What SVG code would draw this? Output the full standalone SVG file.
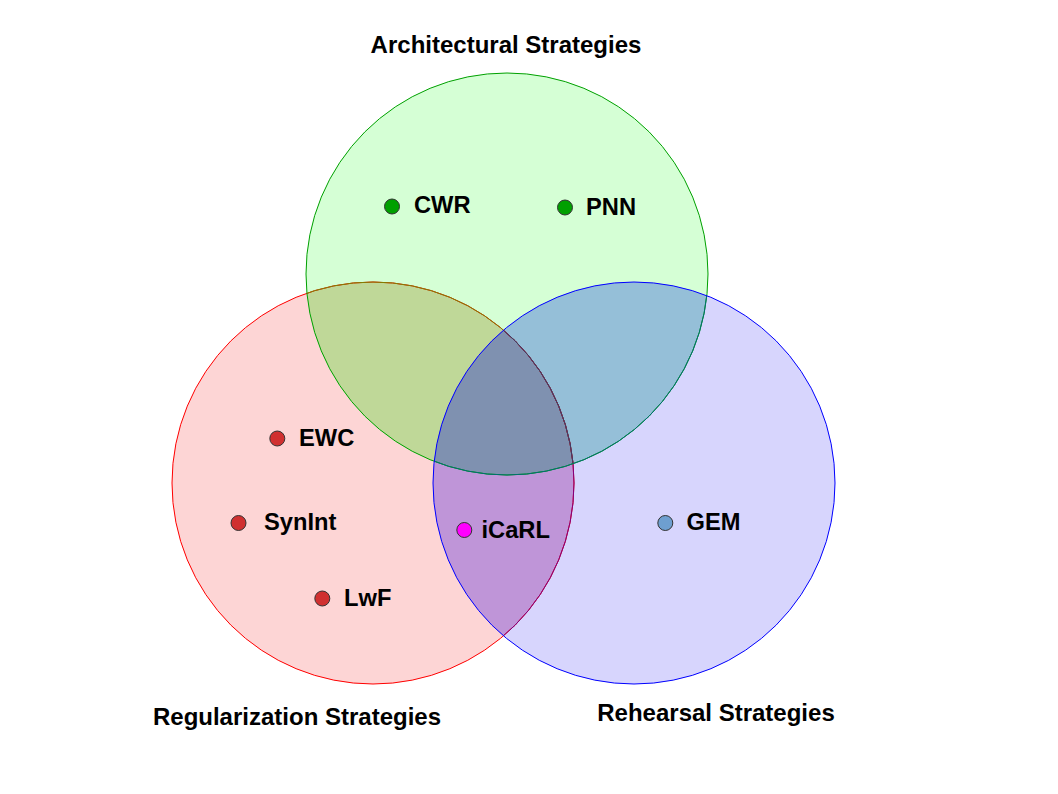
<svg xmlns="http://www.w3.org/2000/svg" width="1058" height="794" viewBox="0 0 1058 794">
<style>
  text { font-family: "Liberation Sans", Arial, sans-serif; font-weight: bold; font-size: 23.7px; fill: #000; }
  .title { text-anchor: middle; font-size: 24px; }
  .dot { stroke: #333; stroke-width: 1; }
  .edge { fill: none; stroke-width: 1; }
</style>
<defs>
  <clipPath id="clipR"><circle cx="373" cy="483" r="201"/></clipPath>
  <clipPath id="clipG"><circle cx="507" cy="274" r="201"/></clipPath>
  <clipPath id="clipB"><circle cx="634" cy="483" r="201"/></clipPath>
</defs>
<rect width="1058" height="794" fill="#ffffff"/>

<g id="set-regularization">
  <circle cx="373" cy="483" r="201" fill="#fdd5d5"/>
</g>
<g id="set-architectural">
  <circle cx="507" cy="274" r="201" fill="#d5ffd5"/>
</g>
<g id="set-rehearsal">
  <circle cx="634" cy="483" r="201" fill="#d7d5fd"/>
</g>

<g id="overlaps">
  <circle cx="507" cy="274" r="201" fill="#bfd898" clip-path="url(#clipR)"/>
  <circle cx="634" cy="483" r="201" fill="#bf95d8" clip-path="url(#clipR)"/>
  <circle cx="634" cy="483" r="201" fill="#95bfd8" clip-path="url(#clipG)"/>
  <g clip-path="url(#clipR)">
    <circle cx="634" cy="483" r="201" fill="#7f91b0" clip-path="url(#clipG)"/>
  </g>
</g>

<g id="outlines">
  <circle class="edge" cx="373" cy="483" r="201" stroke="#ff0000"/>
  <circle class="edge" cx="373" cy="483" r="201" stroke="#808000" clip-path="url(#clipG)"/>
  <circle class="edge" cx="373" cy="483" r="201" stroke="#800080" clip-path="url(#clipB)"/>
  <g clip-path="url(#clipG)">
    <circle class="edge" cx="373" cy="483" r="201" stroke="#404060" clip-path="url(#clipB)"/>
  </g>
  <circle class="edge" cx="507" cy="274" r="201" stroke="#00a000"/>
  <circle class="edge" cx="507" cy="274" r="201" stroke="#007070" clip-path="url(#clipB)"/>
  <circle class="edge" cx="634" cy="483" r="201" stroke="#0000ff"/>
</g>

<g id="title-architectural"><text class="title" x="506" y="53">Architectural Strategies</text></g>
<g id="title-regularization"><text class="title" x="297" y="725">Regularization Strategies</text></g>
<g id="title-rehearsal"><text class="title" x="716" y="721">Rehearsal Strategies</text></g>

<g id="node-CWR">
  <circle class="dot" cx="392" cy="206.5" r="7.5" fill="#00a000"/>
  <text x="414" y="213">CWR</text>
</g>
<g id="node-PNN">
  <circle class="dot" cx="565" cy="207.5" r="7.5" fill="#00a000"/>
  <text x="586" y="215">PNN</text>
</g>
<g id="node-EWC">
  <circle class="dot" cx="277.3" cy="438.5" r="7.5" fill="#d03030"/>
  <text x="299" y="446">EWC</text>
</g>
<g id="node-SynInt">
  <circle class="dot" cx="238.5" cy="523" r="7.5" fill="#d03030"/>
  <text x="264" y="530">SynInt</text>
</g>
<g id="node-LwF">
  <circle class="dot" cx="322.3" cy="598.5" r="7.5" fill="#d03030"/>
  <text x="344" y="606">LwF</text>
</g>
<g id="node-iCaRL">
  <circle class="dot" cx="464.3" cy="530" r="7.5" fill="#ff00ff"/>
  <text x="481.5" y="537.5">iCaRL</text>
</g>
<g id="node-GEM">
  <circle class="dot" cx="665.3" cy="523" r="7.5" fill="#6e9fd0"/>
  <text x="686.5" y="530">GEM</text>
</g>
</svg>
